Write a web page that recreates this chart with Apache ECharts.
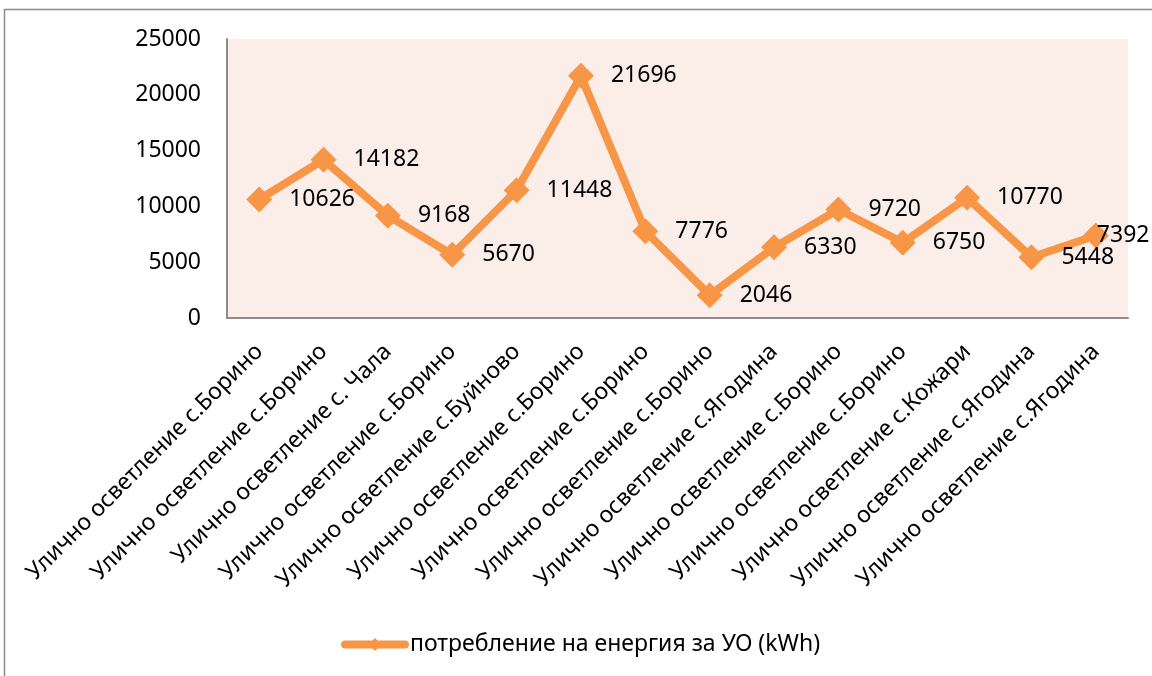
<!DOCTYPE html>
<html>
<head>
<meta charset="utf-8">
<script src="https://cdn.jsdelivr.net/npm/echarts@6/dist/echarts.min.js"></script>
<style>
  html, body { margin: 0; padding: 0; background: #fff; }
  #main { width: 1152px; height: 676px; }
</style>
</head>
<body>
<div id="main"></div>
<script>
var categories = [
    'Улично осветление с.Борино',
    'Улично осветление с.Борино',
    'Улично осветление с. Чала',
    'Улично осветление с.Борино',
    'Улично осветление с.Буйново',
    'Улично осветление с.Борино',
    'Улично осветление с.Борино',
    'Улично осветление с.Борино',
    'Улично осветление с.Ягодина',
    'Улично осветление с.Борино',
    'Улично осветление с.Борино',
    'Улично осветление с.Кожари',
    'Улично осветление с.Ягодина',
    'Улично осветление с.Ягодина'
];
var consumption = [10626, 14182, 9168, 5670, 11448, 21696, 7776, 2046, 6330, 9720, 6750, 10770, 5448, 7392];
var seriesName = 'потребление на енергия за УО (kWh)';
var yTicks = [0, 5000, 10000, 15000, 20000, 25000];

var FONT = 'Noto Sans';
var ORANGE = '#F79646';

var myChart = echarts.init(document.getElementById('main'));

// последната стойност е изместена наляво, иначе излиза от рамката
var seriesData = consumption.map(function (v, i) {
    if (i === consumption.length - 1) {
        return { value: v, label: { offset: [-29, 0] } };
    }
    return v;
});

var option = {
    animation: false,
    textStyle: { fontFamily: FONT },
    graphic: [{
        type: 'rect',
        shape: { x: 4.5, y: 9.5, width: 1200, height: 700 },
        style: { fill: 'none', stroke: '#8c8c8c', lineWidth: 1.5 },
        silent: true
    }],
    legend: {
        left: 341,
        top: 633,
        padding: 0,
        itemWidth: 60,
        itemHeight: 16,
        lineStyle: { width: 8, cap: 'round' },
        textStyle: { fontFamily: FONT, fontSize: 23, color: '#000' },
        data: [seriesName]
    },
    grid: {
        left: 227,
        right: 24,
        top: 39,
        bottom: 358,
        show: true,
        backgroundColor: '#FBEDE8',
        borderWidth: 0
    },
    xAxis: {
        type: 'category',
        data: categories,
        boundaryGap: true,
        axisLine: { show: true, lineStyle: { color: '#8c8c8c', width: 2 } },
        axisTick: { show: false },
        axisLabel: {
            interval: 0,
            rotate: 45,
            margin: 30,
            fontFamily: FONT,
            fontSize: 23,
            color: '#000'
        },
        splitLine: { show: false }
    },
    yAxis: {
        type: 'value',
        min: yTicks[0],
        max: yTicks[yTicks.length - 1],
        interval: 5000,
        axisLine: { show: true, lineStyle: { color: '#8c8c8c', width: 2 } },
        axisTick: { show: false },
        axisLabel: {
            margin: 26,
            fontFamily: FONT,
            fontSize: 23,
            color: '#000',
            formatter: function (v) { return String(v); }
        },
        splitLine: { show: false }
    },
    series: [{
        name: seriesName,
        type: 'line',
        data: seriesData,
        symbol: 'diamond',
        symbolSize: 26,
        itemStyle: { color: ORANGE },
        lineStyle: { color: ORANGE, width: 8 },
        label: {
            show: true,
            position: 'right',
            distance: 17,
            fontFamily: FONT,
            fontSize: 23,
            color: '#000'
        }
    }]
};
myChart.setOption(option);
</script>
</body>
</html>
